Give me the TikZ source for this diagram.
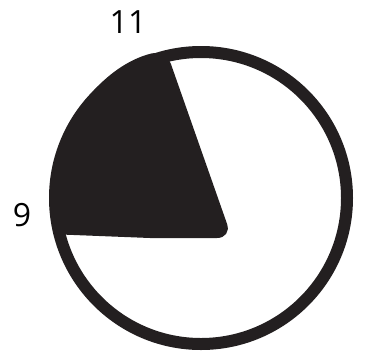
\documentclass[tikz,border=0pt]{standalone}
\usepackage{fontspec}
\setmainfont{Open Sans}
\definecolor{ink}{HTML}{231F20}
\begin{document}
\begin{tikzpicture}[x=1pt,y=-1pt,
  lbl/.style={font=\fontsize{32}{36}\selectfont, text=black, inner sep=0pt}]
\useasboundingbox (0,0) rectangle (380,354);
\coordinate (c) at (201,198);
\fill[ink] (150,238) [rounded corners=15pt] -- (232,238) -- (166,50) [sharp corners] arc[start angle=-103.5, end angle=-196.4, radius=147] -- cycle;
\draw[ink, line width=12pt] (c) circle[radius=146];
\node[lbl] (eleven) at (128,22) {11};
\node[lbl] (nine) at (22,215) {9};
\end{tikzpicture}
\end{document}
